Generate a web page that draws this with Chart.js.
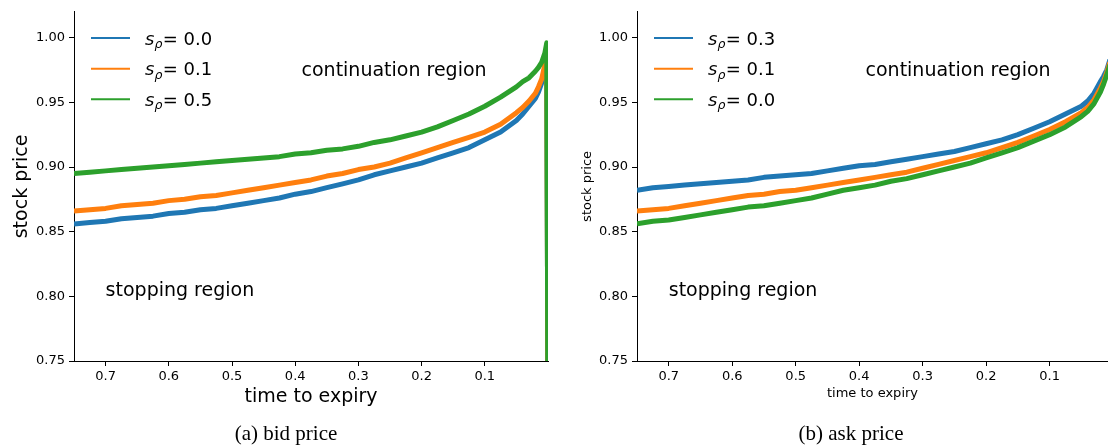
<!DOCTYPE html>
<html>
<head>
<meta charset="utf-8">
<script src="https://cdn.jsdelivr.net/npm/chart.js@4.4.1/dist/chart.umd.min.js"></script>
<style>
  body { margin: 0; background: #fff; width: 1108px; height: 447px; overflow: hidden; position: relative; }
  canvas { position: absolute; top: 0; }
  #bidChart { left: 0; }
  #askChart { left: 554px; }
  .caption { position: absolute; top: 421px; font-family: "Liberation Serif", serif; font-size: 21px; color: #000; transform: translateX(-50%); white-space: nowrap; }
</style>
</head>
<body>
<canvas id="bidChart" width="554" height="447"></canvas>
<canvas id="askChart" width="554" height="447"></canvas>
<div class="caption" style="left:286px">(a) bid price</div>
<div class="caption" style="left:851px">(b) ask price</div>
<script>
// datos
const xTickLabels = [0.7, 0.6, 0.5, 0.4, 0.3, 0.2, 0.1];
const yTickLabels = [0.75, 0.80, 0.85, 0.90, 0.95, 1.00];

// (a) bid price
const bidTime = [0.75, 0.725, 0.7, 0.675, 0.65, 0.625, 0.6, 0.575, 0.55, 0.525, 0.5, 0.475, 0.45, 0.425, 0.4, 0.375, 0.35, 0.325, 0.3, 0.275, 0.25, 0.225, 0.2, 0.175, 0.15, 0.125, 0.1, 0.075, 0.05, 0.04, 0.03, 0.02, 0.015, 0.01, 0.005, 0.002, 0];
const bidSpreads = ['0.0', '0.1', '0.5'];
const bidS00 = [0.856, 0.857, 0.858, 0.860, 0.861, 0.862, 0.864, 0.865, 0.867, 0.868, 0.870, 0.872, 0.874, 0.876, 0.879, 0.881, 0.884, 0.887, 0.890, 0.894, 0.897, 0.900, 0.903, 0.907, 0.911, 0.915, 0.921, 0.927, 0.936, 0.941, 0.947, 0.953, 0.958, 0.965, 0.977, 0.991, 0.70];
const bidS01 = [0.866, 0.867, 0.868, 0.870, 0.871, 0.872, 0.874, 0.875, 0.877, 0.878, 0.880, 0.882, 0.884, 0.886, 0.888, 0.890, 0.893, 0.895, 0.898, 0.900, 0.903, 0.907, 0.911, 0.915, 0.919, 0.923, 0.927, 0.933, 0.942, 0.946, 0.951, 0.957, 0.962, 0.968, 0.979, 0.993, 0.70];
const bidS05 = [0.895, 0.896, 0.897, 0.898, 0.899, 0.900, 0.901, 0.902, 0.903, 0.904, 0.905, 0.906, 0.907, 0.908, 0.910, 0.911, 0.913, 0.914, 0.916, 0.919, 0.921, 0.924, 0.927, 0.931, 0.936, 0.941, 0.947, 0.954, 0.962, 0.966, 0.969, 0.974, 0.977, 0.981, 0.988, 0.996, 0.70];

// (b) ask price
const askTime = [0.75, 0.725, 0.7, 0.675, 0.65, 0.625, 0.6, 0.575, 0.55, 0.525, 0.5, 0.475, 0.45, 0.425, 0.4, 0.375, 0.35, 0.325, 0.3, 0.275, 0.25, 0.225, 0.2, 0.175, 0.15, 0.125, 0.1, 0.075, 0.05, 0.04, 0.03, 0.02, 0.015, 0.01, 0.005];
const askSpreads = ['0.3', '0.1', '0.0'];
const askS03 = [0.882, 0.884, 0.885, 0.886, 0.887, 0.888, 0.889, 0.890, 0.892, 0.893, 0.894, 0.895, 0.897, 0.899, 0.901, 0.902, 0.904, 0.906, 0.908, 0.910, 0.912, 0.915, 0.918, 0.921, 0.925, 0.930, 0.935, 0.941, 0.947, 0.951, 0.957, 0.966, 0.970, 0.975, 0.983];
const askS01 = [0.866, 0.867, 0.868, 0.870, 0.872, 0.874, 0.876, 0.878, 0.879, 0.881, 0.882, 0.884, 0.886, 0.888, 0.890, 0.892, 0.894, 0.896, 0.899, 0.902, 0.905, 0.908, 0.911, 0.915, 0.919, 0.924, 0.929, 0.935, 0.942, 0.946, 0.952, 0.961, 0.966, 0.973, 0.981];
const askS00 = [0.856, 0.858, 0.859, 0.861, 0.863, 0.865, 0.867, 0.869, 0.870, 0.872, 0.874, 0.876, 0.879, 0.882, 0.884, 0.886, 0.889, 0.891, 0.894, 0.897, 0.900, 0.903, 0.907, 0.911, 0.915, 0.920, 0.925, 0.931, 0.939, 0.943, 0.949, 0.958, 0.964, 0.971, 0.979];

const BLUE = '#1f77b4', ORANGE = '#ff7f0e', GREEN = '#2ca02c';
const FONT = 'DejaVu Sans';

Chart.defaults.font.family = FONT;
Chart.defaults.color = '#000';

function toPoints(xs, ys) {
    return xs.map((x, i) => ({ x: x, y: ys[i] }));
}

// la última serie queda encima, como en la figura original
function serie(label, xs, ys, color, orden) {
    return {
        label: label,
        data: toPoints(xs, ys),
        borderColor: color,
        backgroundColor: color,
        borderWidth: 5,
        borderJoinStyle: 'round',
        pointRadius: 0,
        order: orden,
        clip: 0
    };
}

// leyenda dentro del área y textos de regiones
const regionPlugin = {
    id: 'regiones',
    afterDatasetsDraw(chart) {
        const { ctx, chartArea, scales } = chart;
        ctx.save();
        ctx.fillStyle = '#000';
        ctx.textAlign = 'left';
        ctx.textBaseline = 'alphabetic';
        ctx.font = '19px "' + FONT + '"';
        ctx.fillText('continuation region', scales.x.getPixelForValue(0.39), scales.y.getPixelForValue(0.97));
        ctx.fillText('stopping region', scales.x.getPixelForValue(0.70), scales.y.getPixelForValue(0.80));

        chart.data.datasets.forEach((ds, i) => {
            const y = chartArea.top + 26.3 + i * 30.6;
            const x0 = chartArea.left + 17;
            ctx.strokeStyle = ds.borderColor;
            ctx.lineWidth = 2;
            ctx.beginPath();
            ctx.moveTo(x0, y);
            ctx.lineTo(x0 + 39, y);
            ctx.stroke();

            let x = x0 + 54;
            const base = y + 6.5;
            ctx.font = 'italic 18px "' + FONT + '"';
            ctx.fillText('s', x, base);
            x += ctx.measureText('s').width;
            ctx.font = 'italic 12.5px "' + FONT + '"';
            ctx.fillText('ρ', x, base + 3.5);
            x += ctx.measureText('ρ').width + 0.5;
            ctx.font = '18px "' + FONT + '"';
            ctx.fillText('= ' + ds.label, x, base);
        });
        ctx.restore();
    }
};

function crearGrafico(id, datasets, opts) {
    const ctx = document.getElementById(id).getContext('2d');
    return new Chart(ctx, {
        type: 'line',
        data: { datasets: datasets },
        options: {
            responsive: false,
            animation: false,
            layout: { padding: { top: 7, right: opts.padRight, left: 0, bottom: 0 } },
            plugins: { legend: { display: false }, tooltip: { enabled: false } },
            scales: {
                x: {
                    type: 'linear',
                    reverse: true,
                    min: opts.xMin,
                    max: 0.75,
                    afterBuildTicks: s => { s.ticks = xTickLabels.map(v => ({ value: v })); },
                    afterFit: s => { s.height = 86; },
                    ticks: { font: { size: 13 }, padding: 3, callback: v => v.toFixed(1) },
                    grid: { drawOnChartArea: false, tickLength: 5, color: '#000' },
                    border: { color: '#000', width: 1 },
                    title: { display: true, text: 'time to expiry', font: { size: opts.xTitleSize }, padding: { top: 0, bottom: opts.xTitlePad } }
                },
                y: {
                    type: 'linear',
                    min: 0.75,
                    max: 1.02,
                    afterBuildTicks: s => { s.ticks = yTickLabels.map(v => ({ value: v })); },
                    afterFit: s => { s.width = opts.yWidth; },
                    ticks: { font: { size: 13 }, padding: 4, callback: v => v.toFixed(2) },
                    grid: { drawOnChartArea: false, tickLength: 5, color: '#000' },
                    border: { color: '#000', width: 1 },
                    title: { display: true, text: 'stock price', font: { size: opts.yTitleSize }, padding: { top: opts.yTitlePad, bottom: 0 } }
                }
            }
        },
        plugins: [regionPlugin]
    });
}

const bidChart = crearGrafico('bidChart', [
    serie(bidSpreads[0], bidTime, bidS00, BLUE, 3),
    serie(bidSpreads[1], bidTime, bidS01, ORANGE, 2),
    serie(bidSpreads[2], bidTime, bidS05, GREEN, 1)
], { padRight: 6, xMin: 0, yWidth: 74, xTitleSize: 19, xTitlePad: 38.6, yTitleSize: 19, yTitlePad: 10.6 });

const askChart = crearGrafico('askChart', [
    serie(askSpreads[0], askTime, askS03, BLUE, 3),
    serie(askSpreads[1], askTime, askS01, ORANGE, 2),
    serie(askSpreads[2], askTime, askS00, GREEN, 1)
], { padRight: 0, xMin: 0.008, yWidth: 83, xTitleSize: 13, xTitlePad: 45.2, yTitleSize: 13, yTitlePad: 26 });
</script>
</body>
</html>
